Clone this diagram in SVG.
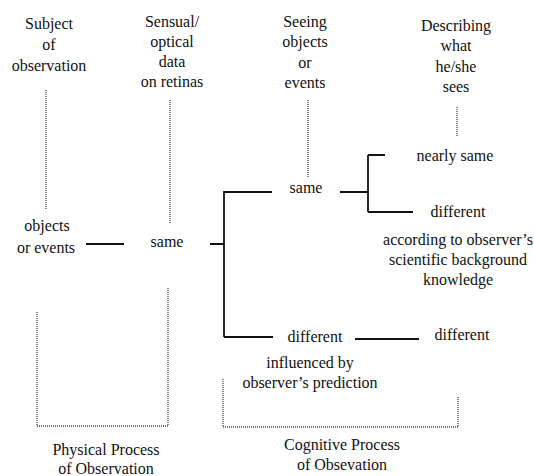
<svg xmlns="http://www.w3.org/2000/svg" width="534" height="476" viewBox="0 0 534 476">
<style>
text{font-size:16px;fill:#111;text-anchor:middle}
.dot{fill:none;stroke:#444;stroke-width:1.3;stroke-dasharray:1 1}
.sol{fill:none;stroke:#111;stroke-width:1.8}
</style>
<rect width="534" height="476" fill="#fff"/>
<g font-family="'Liberation Serif', 'Times New Roman', 'DejaVu Serif', serif">
<g id="h1"><text x="49" y="29">Subject</text><text x="49" y="50">of</text><text x="49" y="71">observation</text></g>
<g id="h2"><text x="172" y="27">Sensual/</text><text x="172" y="47">optical</text><text x="172" y="67">data</text><text x="172" y="87">on retinas</text></g>
<g id="h3"><text x="305" y="27">Seeing</text><text x="305" y="47">objects</text><text x="305" y="68">or</text><text x="305" y="88">events</text></g>
<g id="h4"><text x="456" y="31">Describing</text><text x="456" y="51">what</text><text x="456" y="72">he/she</text><text x="456" y="92">sees</text></g>
<g id="n-objects"><text x="47" y="231">objects</text><text x="46" y="253">or events</text></g>
<g id="n-same1"><text x="167" y="247">same</text></g>
<g id="n-same2"><text x="306" y="193">same</text></g>
<g id="n-nearly"><text x="455" y="161">nearly same</text></g>
<g id="n-diff1"><text x="458" y="217">different</text></g>
<g id="n-according"><text x="458" y="245">according to observer’s</text><text x="458" y="265">scientific background</text><text x="458" y="285">knowledge</text></g>
<g id="n-diff2"><text x="315" y="342">different</text></g>
<g id="n-diff3"><text x="462" y="340">different</text></g>
<g id="n-influenced"><text x="310" y="368">influenced by</text><text x="310" y="388">observer’s prediction</text></g>
<g id="n-physical"><text x="106" y="455">Physical Process</text><text x="106" y="474">of Observation</text></g>
<g id="n-cognitive"><text x="342" y="450">Cognitive Process</text><text x="342" y="470">of Obsevation</text></g>
</g>
<g id="connectors">
<path class="dot" d="M46,90V209M170,100V223M308,100V177M457,107V137"/>
<path class="dot" d="M37,312V426H168V288"/>
<path class="dot" d="M223,379V427H458V397"/>
<path class="sol" d="M86,244H124M210,244H224M224,191V337M224,192H272M224,337H273"/>
<path class="sol" d="M340,192H368M368,155V212M368,155H385M368,212H413M355,339H419"/>
</g>
</svg>
